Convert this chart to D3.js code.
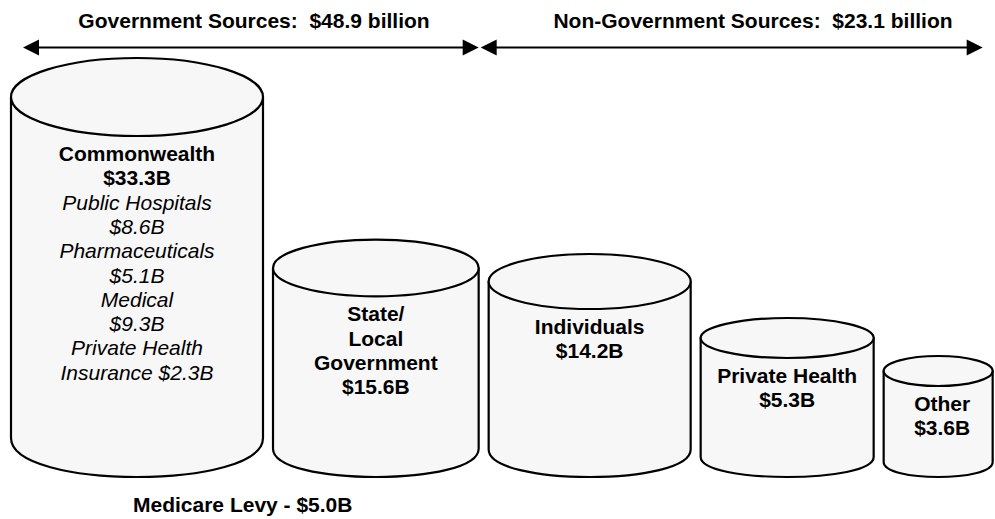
<!DOCTYPE html>
<html>
<head>
<meta charset="utf-8">
<script src="https://cdn.jsdelivr.net/npm/d3@7"></script>
<style>
  html, body { margin: 0; padding: 0; background: #ffffff; }
  svg { display: block; }
  text { font-family: "Liberation Sans", Arial, Helvetica, sans-serif; fill: #000; }
</style>
</head>
<body>
<svg id="chart" width="995" height="519"></svg>
<script>
// Health funding sources, billions of dollars
const categories = ["Commonwealth", "State/Local Government", "Individuals", "Private Health", "Other"];
const nameLines = [["Commonwealth"], ["State/", "Local", "Government"], ["Individuals"], ["Private Health"], ["Other"]];
const values = [33.3, 15.6, 14.2, 5.3, 3.6];
const sourceGroup = ["gov", "gov", "non", "non", "non"];

// Commonwealth breakdown
const breakdownLines = [["Public Hospitals"], ["Pharmaceuticals"], ["Medical"], ["Private Health", "Insurance"]];
const breakdownValues = [8.6, 5.1, 9.3, 2.3];

// Group totals
const groupNames = ["Government Sources", "Non-Government Sources"];
const groupTotals = [48.9, 23.1];
const medicareLevy = 5.0;

const svg = d3.select("#chart");
const fmt = v => "$" + v.toFixed(1) + "B";

// Cylinder size scales (value -> diameter, body height, ellipse depth)
const widthScale = d3.scaleLinear().domain([3.6, 5.3, 14.2, 33.3]).range([109, 173, 202, 252]);
const heightScale = d3.scaleLinear().domain([3.6, 5.3, 14.2, 33.3]).range([91, 119, 168, 341]);
const depthScale = d3.scaleLinear().domain([3.6, 5.3, 14.2, 33.3]).range([15, 20, 27.5, 39]);

const baseY = 477;     // lowest point of every cylinder
const startX = 11;
const gap = 10;

// Pack cylinders left to right
let cursor = startX;
const cyl = values.map((v, i) => {
  const w = widthScale(v);
  const rx = w / 2;
  const ry = depthScale(v);
  const x0 = cursor;
  cursor += w + gap;
  const botY = baseY - ry;
  const topY = botY - heightScale(v);
  return { i, v, name: categories[i], lines: nameLines[i], x0, x1: x0 + w, cx: x0 + rx, rx, ry, topY, botY };
});

const fill = "#f7f7f7";
const g = svg.append("g");

const bodyPath = d => {
  const p = d3.path();
  p.moveTo(d.cx - d.rx, d.topY);
  p.lineTo(d.cx - d.rx, d.botY);
  p.bezierCurveTo(d.cx - d.rx, d.botY + d.ry * 1.333, d.cx + d.rx, d.botY + d.ry * 1.333, d.cx + d.rx, d.botY);
  p.lineTo(d.cx + d.rx, d.topY);
  p.closePath();
  return p.toString();
};

const cg = g.selectAll("g.cyl").data(cyl).join("g").attr("class", "cyl");
cg.append("path")
  .attr("d", bodyPath)
  .attr("fill", fill)
  .attr("stroke", "#000")
  .attr("stroke-width", 2.2)
  .attr("stroke-linejoin", "round");
cg.append("ellipse")
  .attr("cx", d => d.cx)
  .attr("cy", d => d.topY)
  .attr("rx", d => d.rx)
  .attr("ry", d => d.ry)
  .attr("fill", fill)
  .attr("stroke", "#000")
  .attr("stroke-width", 2.2);

// Labels inside each cylinder
const lineH = 24.3;
const fontSize = 21;
cg.each(function (d) {
  const lines = d.lines.map(t => ({ t, bold: true, italic: false }));
  lines.push({ t: fmt(d.v), bold: true, italic: false });
  if (d.i === 0) {
    breakdownLines.forEach((bl, k) => {
      if (bl.length === 1) {
        lines.push({ t: bl[0], bold: false, italic: true });
        lines.push({ t: fmt(breakdownValues[k]), bold: false, italic: true });
      } else {
        bl.forEach((t, j) => {
          const last = j === bl.length - 1;
          lines.push({ t: last ? t + " " + fmt(breakdownValues[k]) : t, bold: false, italic: true });
        });
      }
    });
  }
  const y0 = d.topY + d.ry + 25;
  d3.select(this).selectAll("text.lbl").data(lines).join("text")
    .attr("class", "lbl")
    .attr("x", d.cx + (d.i === 4 ? 4 : 0))
    .attr("y", (l, k) => y0 + k * lineH)
    .attr("text-anchor", "middle")
    .attr("font-size", fontSize)
    .attr("font-weight", l => l.bold ? "bold" : "normal")
    .attr("font-style", l => l.italic ? "italic" : "normal")
    .text(l => l.t);
});

// Group arrows across the top
const arrowY = 47.5;
const govRight = cyl.filter((c, i) => sourceGroup[i] === "gov").slice(-1)[0].x1;
const nonLeft = cyl.find((c, i) => sourceGroup[i] === "non").x0;
const boundary = (govRight + nonLeft) / 2;
const spans = [
  [cyl[0].x0 + 12, boundary - 5],
  [boundary - 3, cyl[cyl.length - 1].x1 - 10]
];
const headL = 16, headW = 8;
const ag = svg.append("g");
spans.forEach(([a, b]) => {
  ag.append("line")
    .attr("x1", a + headL - 1).attr("x2", b - headL + 1)
    .attr("y1", arrowY).attr("y2", arrowY)
    .attr("stroke", "#000").attr("stroke-width", 2);
  ag.append("path")
    .attr("d", `M${a},${arrowY} L${a + headL},${arrowY - headW} L${a + headL},${arrowY + headW} Z`)
    .attr("fill", "#000");
  ag.append("path")
    .attr("d", `M${b},${arrowY} L${b - headL},${arrowY - headW} L${b - headL},${arrowY + headW} Z`)
    .attr("fill", "#000");
});

// Group titles
const titleX = [254, 753];
svg.selectAll("text.title").data(groupNames).join("text")
  .attr("class", "title")
  .attr("x", (d, i) => titleX[i])
  .attr("y", 28)
  .attr("text-anchor", "middle")
  .attr("font-size", 21)
  .attr("font-weight", "bold")
  .style("white-space", "pre")
  .text((d, i) => `${d}:  $${groupTotals[i].toFixed(1)} billion`);

// Medicare levy note under the Commonwealth cylinder
svg.append("text")
  .attr("x", 133)
  .attr("y", 512)
  .attr("font-size", 21)
  .attr("font-weight", "bold")
  .text(`Medicare Levy - $${medicareLevy.toFixed(1)}B`);
</script>
</body>
</html>
